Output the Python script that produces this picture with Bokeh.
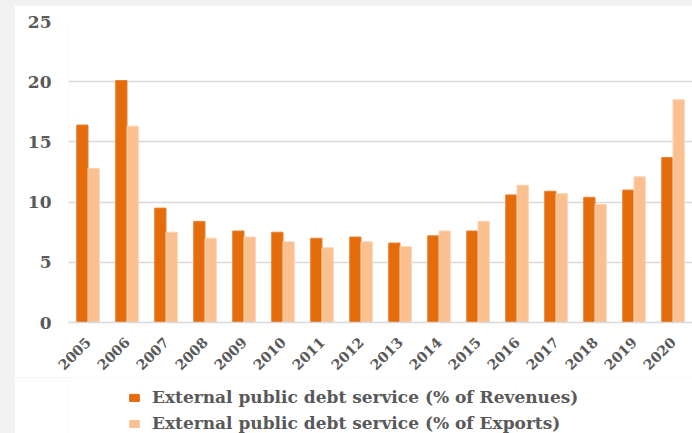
import math
from bokeh.plotting import figure
from bokeh.models import ColumnDataSource, Range1d, FactorRange, Legend, LegendItem
from bokeh.transform import dodge
from bokeh.layouts import column
from bokeh.embed import file_html
from bokeh.resources import INLINE

years = ["2005", "2006", "2007", "2008", "2009", "2010", "2011", "2012",
         "2013", "2014", "2015", "2016", "2017", "2018", "2019", "2020"]
revenues = [16.4, 20.1, 9.5, 8.4, 7.6, 7.5, 7.0, 7.1, 6.6, 7.2, 7.6, 10.6, 10.9, 10.4, 11.0, 13.7]
exports = [12.8, 16.3, 7.5, 7.0, 7.1, 6.7, 6.2, 6.7, 6.3, 7.6, 8.4, 11.4, 10.7, 9.8, 12.1, 18.5]
y_ticks = [0, 5, 10, 15, 20, 25]
label_rev = "External public debt service (% of Revenues)"
label_exp = "External public debt service (% of Exports)"

DARK = "#e46c0a"
LIGHT = "#fac090"
FONT = "DejaVu Serif"
TXT = "#595959"

src = ColumnDataSource(data=dict(year=years, rev=revenues, exp=exports))

xr = FactorRange(*years)
xr.range_padding = 0
xr.group_padding = 0

p = figure(width=678, height=372, x_range=xr, y_range=Range1d(0, 25),
           output_backend="svg", toolbar_location=None,
           min_border_left=54, min_border_top=16, min_border_right=0, min_border_bottom=52)
p.margin = (5, 0, 0, 14)
p.background_fill_color = "white"
p.border_fill_color = "white"
p.outline_line_color = None

r1 = p.vbar(x=dodge("year", -0.145, range=xr), top="rev", width=0.29, source=src,
            fill_color=DARK, line_color="#e8823a", line_width=1)
r2 = p.vbar(x=dodge("year", 0.145, range=xr), top="exp", width=0.29, source=src,
            fill_color=LIGHT, line_color="#fcd3b1", line_width=1)

p.yaxis.ticker = y_ticks
p.yaxis.axis_line_color = None
p.yaxis.major_tick_line_color = None
p.yaxis.minor_tick_line_color = None
p.yaxis.major_label_text_font = FONT
p.yaxis.major_label_text_font_style = "bold"
p.yaxis.major_label_text_font_size = "17px"
p.yaxis.major_label_text_color = TXT
p.yaxis.major_label_standoff = 11

p.xaxis.axis_line_color = "#d9d9d9"
p.xaxis.axis_line_width = 1.5
p.xaxis.major_tick_line_color = None
p.xaxis.minor_tick_line_color = None
p.xaxis.major_label_orientation = math.pi / 4
p.xaxis.major_label_text_font = FONT
p.xaxis.major_label_text_font_style = "bold"
p.xaxis.major_label_text_font_size = "14px"
p.xaxis.major_label_text_color = TXT
p.xaxis.major_label_standoff = 11

p.xgrid.grid_line_color = None
p.ygrid.grid_line_color = "#d9d9d9"
p.ygrid.grid_line_width = 1.5

# legend strip below the chart (its renderers are hidden; only the legend shows)
q = figure(width=678, height=56, x_range=xr, y_range=Range1d(-2, -1),
           output_backend="svg", toolbar_location=None, x_axis_type=None, y_axis_type=None,
           min_border=0, min_border_left=0, min_border_right=0, min_border_top=0, min_border_bottom=0)
q.margin = (0, 0, 0, 14)
q.background_fill_color = "white"
q.border_fill_color = "white"
q.outline_line_color = None
q.grid.visible = False
k1 = q.vbar(x=dodge("year", -0.145, range=xr), top="rev", width=0.29, source=src,
            fill_color=DARK, line_color=DARK)
k2 = q.vbar(x=dodge("year", 0.145, range=xr), top="exp", width=0.29, source=src,
            fill_color=LIGHT, line_color=LIGHT)
k1.visible = False
k2.visible = False

legend = Legend(items=[LegendItem(label=label_rev, renderers=[k1]),
                       LegendItem(label=label_exp, renderers=[k2])],
                orientation="vertical", location=(60, 0), click_policy="none")
legend.label_text_font = FONT
legend.label_text_font_style = "bold"
legend.label_text_font_size = "17px"
legend.label_text_color = TXT
legend.glyph_width = 12
legend.glyph_height = 9
legend.label_height = 20
legend.spacing = 6
legend.label_standoff = 12
legend.border_line_color = None
legend.background_fill_alpha = 0
legend.padding = 0
legend.margin = 0
q.add_layout(legend, "center")

layout = column(p, q, spacing=0, styles={"background-color": "#f2f2f2"})

open("out.html", "w").write(file_html(layout, INLINE))
